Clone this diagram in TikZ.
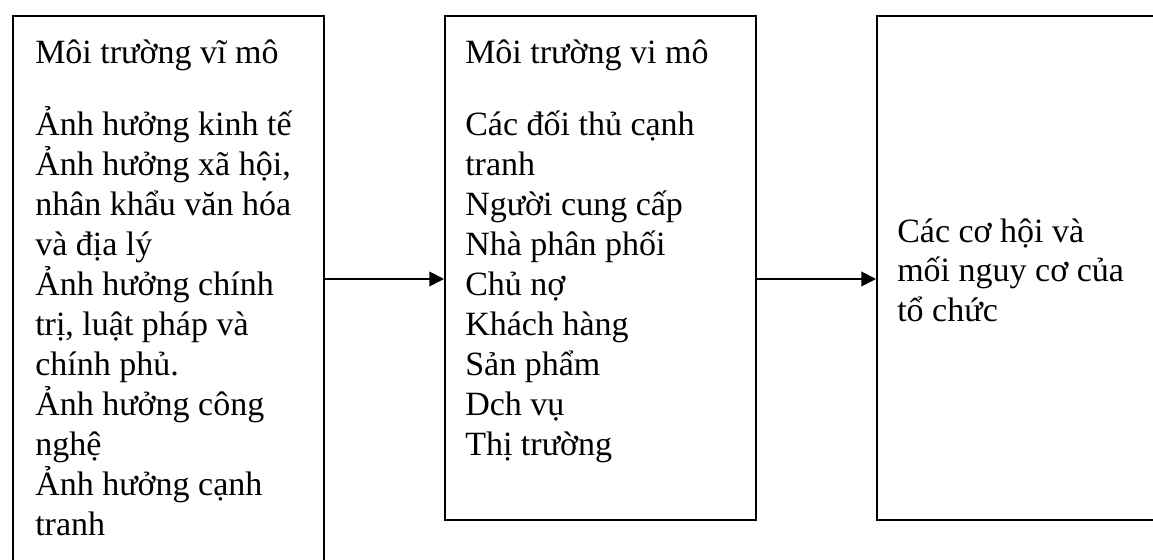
\documentclass[tikz,border=0pt]{standalone}
\usepackage{fontspec}
\setmainfont{Liberation Serif}
\usetikzlibrary{arrows.meta}
\begin{document}
\begin{tikzpicture}[x=0.75pt,y=-0.75pt,
  box/.style={draw,line width=1.7pt,rectangle,inner sep=0pt},
  txt/.style={anchor=base west,inner sep=0pt,font=\fontsize{25.5pt}{30pt}\selectfont},
  arr/.style={line width=1.4pt,-{Triangle[length=11pt,width=11pt]}}]
\useasboundingbox (0,0) rectangle (1153,560);
\clip (0,0) rectangle (1153,560);
% boxes
\node[box,anchor=north west,minimum width=233.25pt,minimum height=480pt] (left) at (12,15) {};
\node[box,anchor=north west,minimum width=233.25pt,minimum height=378pt] (mid) at (444,15) {};
\node[box,anchor=north west,minimum width=260pt,minimum height=378pt] (right) at (876,15) {};
% texts
\node[txt] (lt) at (35,64) {Môi trường vĩ mô};
\foreach \t [count=\i from 0] in {Ảnh hưởng kinh tế,{Ảnh hưởng xã hội,},nhân khẩu văn hóa,và địa lý,Ảnh hưởng chính,{trị, luật pháp và},chính phủ.,Ảnh hưởng công,nghệ,Ảnh hưởng cạnh,tranh}
  \node[txt] (l\i) at (35,{135+40*\i}) {\t};
\node[txt] (mt) at (465,64) {Môi trường vi mô};
\foreach \t [count=\i from 0] in {Các đối thủ cạnh,tranh,Người cung cấp,Nhà phân phối,Chủ nợ,Khách hàng,Sản phẩm,Dch vụ,Thị trường}
  \node[txt] (m\i) at (465,{135+40*\i}) {\t};
\foreach \t [count=\i from 0] in {Các cơ hội và,mối nguy cơ của,tổ chức}
  \node[txt] (r\i) at (897,{242+39.5*\i}) {\t};
% arrows
\coordinate (ay) at (0,279);
\draw[arr] (left.east |- ay) -- (mid.west |- ay);
\draw[arr] (mid.east |- ay) -- (right.west |- ay);
\end{tikzpicture}
\end{document}
